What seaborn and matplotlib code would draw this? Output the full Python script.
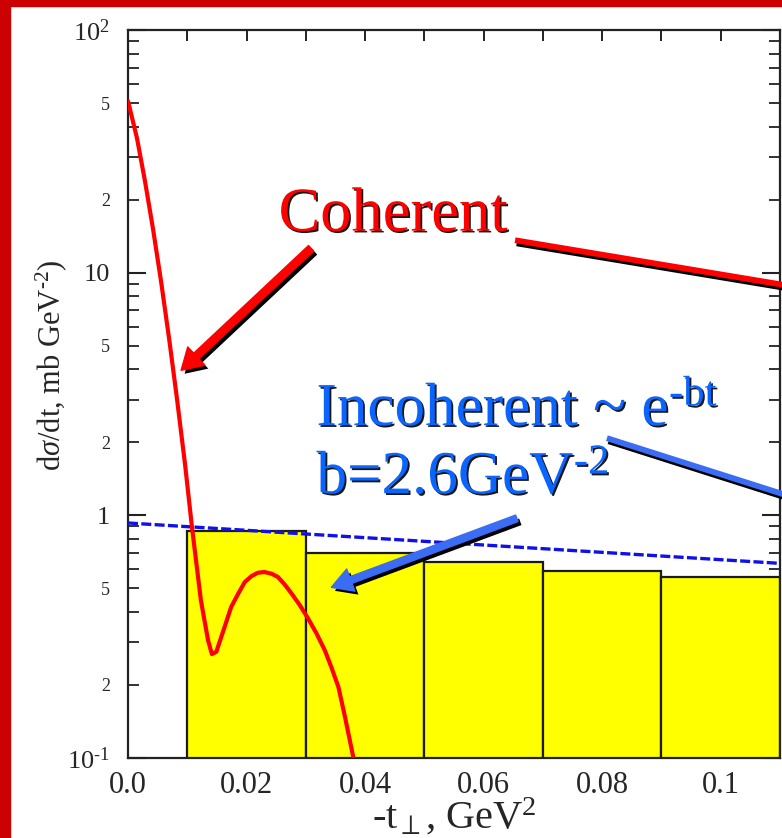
import numpy as np
import pandas as pd
import matplotlib
matplotlib.use("Agg")
import matplotlib.pyplot as plt
import matplotlib.patheffects as pe
from matplotlib.patches import FancyArrowPatch, Rectangle
from matplotlib.ticker import FixedLocator, FuncFormatter, MultipleLocator
import seaborn as sns

# --- du lieu doc tu hinh ---
# duong coherent (do)
t_coh = [0.0, 0.00152, 0.00287, 0.00423, 0.00558, 0.00693, 0.00828, 0.00964,
         0.0108, 0.0123, 0.0135, 0.01415, 0.0149, 0.0163, 0.0174, 0.0186,
         0.0197, 0.0208, 0.0219, 0.0230, 0.0242, 0.0253, 0.0264, 0.0276,
         0.0290, 0.0304, 0.0318, 0.0332, 0.0343, 0.0355, 0.0366, 0.0380, 0.0390]
sig_coh = [51, 35.8, 23.8, 15.1, 9.2, 5.36, 3.0, 1.61,
           0.89, 0.446, 0.306, 0.268, 0.274, 0.347, 0.419, 0.476,
           0.531, 0.561, 0.580, 0.584, 0.575, 0.557, 0.520, 0.476,
           0.426, 0.375, 0.326, 0.278, 0.237, 0.196, 0.148, 0.101, 0.080]

# duong incoherent (xanh, net dut)
t_inc = [0.0, 0.11]
sig_inc = [0.93, 0.634]

# histogram vang
bin_edges = [0.01, 0.03, 0.05, 0.07, 0.09, 0.11]
bin_centers = [0.02, 0.04, 0.06, 0.08, 0.10]
bin_heights = [0.86, 0.70, 0.64, 0.59, 0.556]

xtick_vals = [0.0, 0.02, 0.04, 0.06, 0.08, 0.1]
xtick_labels = ["0.0", "0.02", "0.04", "0.06", "0.08", "0.1"]
ytick_vals = [0.1, 1, 10, 100]
ytick_labels = ["$10^{\u2010 1}$", "1", "10", r"$10^{2}$"]

sns.set_style("ticks")
plt.rcParams["font.family"] = ["Liberation Serif", "DejaVu Serif"]
plt.rcParams["mathtext.fontset"] = "custom"
plt.rcParams["mathtext.rm"] = "Liberation Serif"
plt.rcParams["mathtext.it"] = "Liberation Serif:italic"
plt.rcParams["mathtext.bf"] = "Liberation Serif:bold"

fig = plt.figure(figsize=(7.82, 8.38), dpi=100)
ax = fig.add_axes([128 / 782, 80 / 838, 652 / 782, 728 / 838])
ax.set_yscale("log")

df_bins = pd.DataFrame({"t": bin_centers, "w": bin_heights})
sns.histplot(data=df_bins, x="t", weights="w", bins=bin_edges, stat="count",
             color="#ffff00", edgecolor="#1a1a1a", linewidth=1.6, alpha=1,
             ax=ax, zorder=1)

ax.plot(t_inc, sig_inc, color="#1010e8", lw=2.4, dashes=(3.0, 1.0), zorder=3)
sns.lineplot(x=t_coh, y=sig_coh, color="#ff0000", lw=3, sort=False,
             estimator=None, ax=ax, zorder=4, solid_joinstyle="round")

ax.set_xlim(0, 0.11)
ax.set_ylim(0.1, 100)

# truc
for s in ax.spines.values():
    s.set_linewidth(1.6)
    s.set_color("#222222")
    s.set_visible(True)

ax.yaxis.set_major_locator(FixedLocator(ytick_vals))
ax.set_yticklabels(ytick_labels)
ax.yaxis.set_minor_locator(FixedLocator(
    [m * 10.0 ** e for e in (-1, 0, 1) for m in range(2, 10)]))
ax.yaxis.set_minor_formatter(FuncFormatter(
    lambda v, p: str(int(round(v / 10 ** np.floor(np.log10(v) + 1e-9))))
    if round(v / 10 ** np.floor(np.log10(v) + 1e-9)) in (2, 5) else ""))
ax.set_xticks(xtick_vals)
ax.set_xticklabels(xtick_labels)
ax.xaxis.set_minor_locator(MultipleLocator(0.01))

ax.tick_params(axis="y", which="major", direction="in", length=13, width=1.5,
               left=True, right=True, labelsize=19, pad=13, color="#222222")
ax.tick_params(axis="y", which="minor", direction="in", length=8, width=1.3,
               left=True, right=True, labelsize=13, pad=13, color="#222222")
ax.tick_params(axis="x", which="both", direction="in", length=8, width=1.4,
               top=True, bottom=True, labelsize=22, pad=9, color="#222222")

ax.set_xlabel(r"-t$_{\perp}$, GeV$^{2}$", fontsize=29, labelpad=-2)
ax.set_ylabel("d$\\sigma$/dt, mb GeV$^{\u20102}$)", fontsize=22)
ax.yaxis.set_label_coords(-0.09, 0.54)
ax.grid(False)

# chu thich
txt_shadow = [pe.withSimplePatchShadow(offset=(1.3, -1.3), shadow_rgbFace="black", alpha=0.9)]
ax.text(0.0254, 14.9, "Coherent", color="#ff0000", fontsize=45, ha="left",
        va="baseline", path_effects=txt_shadow, zorder=6)
ax.text(0.0318, 2.35, "Incoherent ~ e$^{\\mathrm{\u2010bt}}$", color="#0a64ff",
        fontsize=44, ha="left", va="baseline", path_effects=txt_shadow, zorder=6)
ax.text(0.0318, 1.23, "b=2.6GeV$^{\\mathrm{\u20102}}$", color="#0a64ff",
        fontsize=44, ha="left", va="baseline", path_effects=txt_shadow, zorder=6)

arrow_shadow = [pe.SimplePatchShadow(offset=(2.5, -2.5), shadow_rgbFace="black", alpha=1), pe.Normal()]
line_shadow = [pe.SimpleLineShadow(offset=(1.2, -2.2), shadow_color="black", alpha=1), pe.Normal()]

arr_red = FancyArrowPatch((0.0309, 12.6), (0.00896, 3.96),
                          arrowstyle="simple,head_width=18,head_length=15,tail_width=5.5",
                          mutation_scale=1, color="#ff0000", shrinkA=0, shrinkB=0,
                          zorder=7, clip_on=False)
arr_red.set_path_effects(arrow_shadow)
ax.add_patch(arr_red)

arr_blue = FancyArrowPatch((0.0656, 0.972), (0.0343, 0.505),
                           arrowstyle="simple,head_width=17,head_length=15,tail_width=5",
                           mutation_scale=1, color="#3a6cf4", shrinkA=0, shrinkB=0,
                           zorder=7, clip_on=False)
arr_blue.set_path_effects(arrow_shadow)
ax.add_patch(arr_blue)

ax.plot([0.0653, 0.1125], [13.6, 8.75], color="#ff0000", lw=4.2,
        solid_capstyle="butt", clip_on=False, zorder=7, path_effects=line_shadow)
ax.plot([0.0808, 0.1125], [2.08, 1.18], color="#3a6cf4", lw=4.2,
        solid_capstyle="butt", clip_on=False, zorder=7, path_effects=line_shadow)

# vien do cua slide
fig.add_artist(Rectangle((0, 0), 10 / 782, 1, transform=fig.transFigure,
                         color="#cc0000", zorder=10))
fig.add_artist(Rectangle((0, 1 - 6 / 838), 1, 6 / 838, transform=fig.transFigure,
                         color="#cc0000", zorder=10))

fig.savefig("out.png", dpi=100)
